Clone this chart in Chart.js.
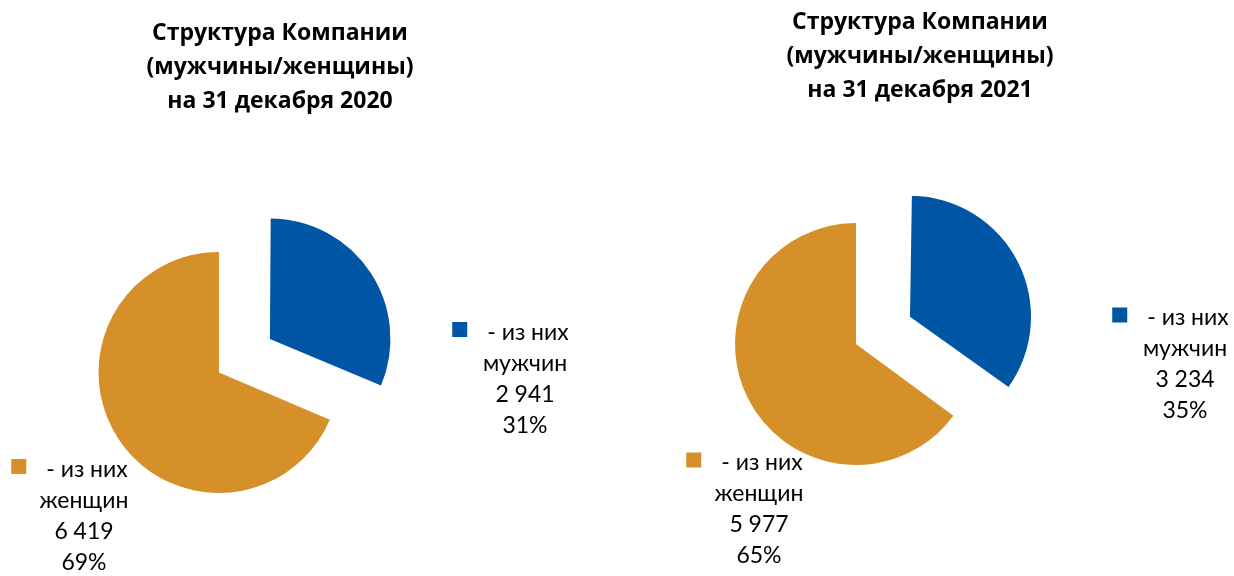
<!DOCTYPE html>
<html>
<head>
<meta charset="utf-8">
<script src="https://cdn.jsdelivr.net/npm/chart.js@4"></script>
<style>
  body { margin: 0; background: #fff; }
  #wrap { position: relative; width: 1234px; height: 576px; overflow: hidden; }
  canvas { position: absolute; }
</style>
</head>
<body>
<div id="wrap">
  <canvas id="pie2020"></canvas>
  <canvas id="pie2021"></canvas>
</div>
<script>
// data
const categories = ['- из них мужчин', '- из них женщин'];
const values2020 = [2941, 6419];
const values2021 = [3234, 5977];
const titles2020 = ['Структура Компании', '(мужчины/женщины)', 'на 31 декабря 2020'];
const titles2021 = ['Структура Компании', '(мужчины/женщины)', 'на 31 декабря 2021'];
const sliceColors = ['#0155A5', '#D6902A'];

const TITLE_FONT = 'bold 23px "Open Sans", Lato, sans-serif';
const LABEL_FONT = '23px Lato, "Open Sans", sans-serif';

// page positions of each pie; canvases get a spare margin so the big arc offset fits
const MARGIN = 160;
const layout2020 = { left: 0, cx: 219, cy: 372.5, r: 120.5, explode: 61, titleX: 280, titleY: 33,
                     labelPos: [[306, -40], [-135, 97]] };
const layout2021 = { left: 617, cx: 856, cy: 344, r: 121, explode: 60.5, titleX: 920, titleY: 22,
                     labelPos: [[329, -26], [-97, 119]] };

function fmt(v) {
  return String(v).replace(/\B(?=(\d{3})+(?!\d))/g, ' ');
}

// Chart.js moves an offset arc by offset/4 but also grows its radius by offset/4 * (1 - sin(circ));
// take that growth back so the exploded slice keeps the pie's radius
const keepRadius = {
  id: 'keepRadius',
  beforeDatasetsDraw(chart) {
    const meta = chart.getDatasetMeta(0);
    const base = meta.controller.outerRadius;
    meta.data.forEach(arc => {
      const off = (arc.options.offset || 0) / 4;
      const fix = 1 - Math.sin(Math.min(Math.PI, arc.circumference));
      arc.outerRadius = base - off * fix;
    });
  }
};

// titles + data labels with legend keys
const sliceLabels = {
  id: 'sliceLabels',
  afterDatasetsDraw(chart, args, opts) {
    const ctx = chart.ctx;
    const meta = chart.getDatasetMeta(0);
    const data = chart.data.datasets[0].data;
    const total = data.reduce((a, b) => a + b, 0);
    ctx.save();
    ctx.fillStyle = '#000';
    ctx.textAlign = 'center';
    ctx.textBaseline = 'middle';
    ctx.font = TITLE_FONT;
    opts.title.forEach((t, i) => ctx.fillText(t, opts.titleX, opts.titleY + i * 34));

    ctx.font = LABEL_FONT;
    meta.data.forEach((arc, i) => {
      const p = opts.labelPos[i];
      const x = arc.x + p[0];
      const y = arc.y + p[1];
      const words = chart.data.labels[i].split(' ');
      const lines = [words.slice(0, -1).join(' '), words[words.length - 1],
                     fmt(data[i]), Math.round(data[i] / total * 100) + '%'];
      lines.forEach((l, k) => {
        ctx.fillStyle = '#000';
        ctx.fillText(l, k === 0 ? x + 3 : x, y + k * 31);
      });
      const w = ctx.measureText(lines[0]).width;
      ctx.fillStyle = chart.data.datasets[0].backgroundColor[i];
      ctx.fillRect(x + 3 - w / 2 - 20 - 15, y - 3 - 7.5, 15, 15);
    });
    ctx.restore();
  }
};

function makePie(id, values, titles, lay) {
  const cnv = document.getElementById(id);
  const W = 617 + 2 * MARGIN, H = 576 + 2 * MARGIN;
  const ox = lay.left - MARGIN, oy = -MARGIN;
  cnv.width = W;
  cnv.height = H;
  cnv.style.left = ox + 'px';
  cnv.style.top = oy + 'px';
  const cx = lay.cx - ox, cy = lay.cy - oy;
  const off = lay.explode * 4;
  const s = 2 * lay.r + off;
  return new Chart(cnv, {
    type: 'pie',
    data: {
      labels: categories,
      datasets: [{
        data: values,
        backgroundColor: sliceColors,
        borderWidth: 0,
        offset: [off, 0],
        hoverOffset: 0
      }]
    },
    options: {
      responsive: false,
      animation: false,
      events: [],
      layout: {
        padding: {
          left: cx - s / 2,
          right: W - cx - s / 2,
          top: cy - s / 2,
          bottom: H - cy - s / 2
        }
      },
      plugins: {
        legend: { display: false },
        tooltip: { enabled: false },
        sliceLabels: { title: titles, titleX: lay.titleX - ox, titleY: lay.titleY - oy, labelPos: lay.labelPos }
      }
    },
    plugins: [keepRadius, sliceLabels]
  });
}

makePie('pie2020', values2020, titles2020, layout2020);
makePie('pie2021', values2021, titles2021, layout2021);
</script>
</body>
</html>
